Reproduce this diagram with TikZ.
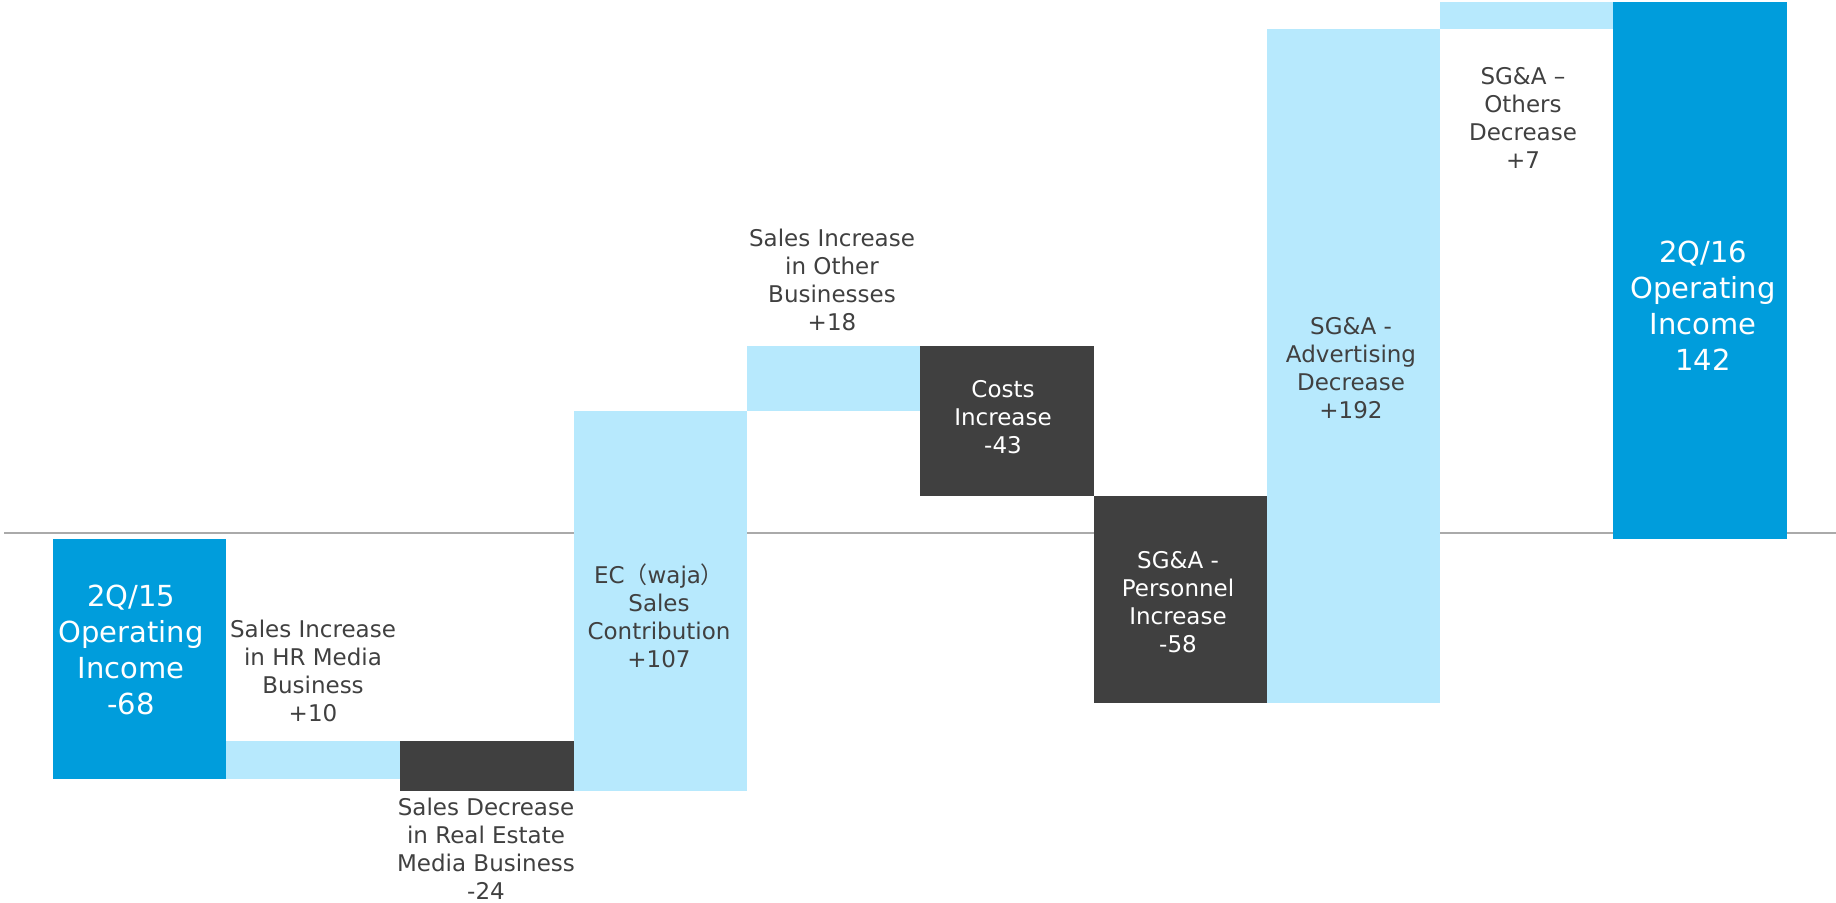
\documentclass[tikz,border=0pt]{standalone}
\usepackage{fontspec}
\setmainfont{DejaVu Sans}
\newfontfamily\jpfont{Noto Sans CJK JP}

\definecolor{incomeblue}{HTML}{009DDC}
\definecolor{gainblue}{HTML}{B7E9FD}
\definecolor{lossgray}{HTML}{404040}
\definecolor{axisgray}{HTML}{AAAAAA}
\definecolor{labelgray}{HTML}{404040}

\tikzset{
  income/.style={fill=incomeblue},
  gain/.style={fill=gainblue},
  loss/.style={fill=lossgray},
  barlabel/.style={align=center, text=labelgray, inner sep=0pt,
    font=\fontsize{11.5}{14}\selectfont},
  darklabel/.style={barlabel, text=white},
  totallabel/.style={align=center, text=white, inner sep=0pt,
    font=\fontsize{14.5}{18}\selectfont}
}

\begin{document}
\begin{tikzpicture}[x=0.5pt, y=-0.5pt]
\useasboundingbox (0,0) rectangle (1836,902);

% zero line
\draw [axisgray, line width=1pt] (4,533) -- (1836,533);

% bars, left to right
\fill [income] (53,539) rectangle (226,779);
\fill [gain] (226,741) rectangle (400,779);
\fill [loss] (400,741) rectangle (574,791);
\fill [gain] (574,411) rectangle (747,791);
\fill [gain] (747,346) rectangle (920,411);
\fill [loss] (920,346) rectangle (1094,496);
\fill [loss] (1094,496) rectangle (1267,703);
\fill [gain] (1267,29) rectangle (1440,703);
\fill [gain] (1440,2) rectangle (1613,29);
\fill [income] (1613,2) rectangle (1787,539);

% labels
\node [totallabel] (opinc15) at (131,650) {2Q/15\\Operating\\Income\\-68};
\node [barlabel] (hrmedia) at (313,671) {Sales Increase\\in HR Media\\Business\\+10};
\node [barlabel] (realestate) at (486,849) {Sales Decrease\\in Real Estate\\Media Business\\-24};
\node [barlabel] (ecwaja) at (659,616) {EC{\jpfont （}waja{\jpfont ）}\\Sales\\Contribution\\+107};
\node [barlabel] (otherbiz) at (832,280) {Sales Increase\\in Other\\Businesses\\+18};
\node [darklabel] (costs) at (1003,417) {Costs\\Increase\\-43};
\node [darklabel] (personnel) at (1178,602) {SG\&A -\\Personnel\\Increase\\-58};
\node [barlabel] (advertising) at (1351,368) {SG\&A -\\Advertising\\Decrease\\+192};
\node [barlabel] (sgaothers) at (1523,118) {SG\&A –\\Others\\Decrease\\+7};
\node [totallabel] (opinc16) at (1703,306) {2Q/16\\Operating\\Income\\142};

\end{tikzpicture}
\end{document}
